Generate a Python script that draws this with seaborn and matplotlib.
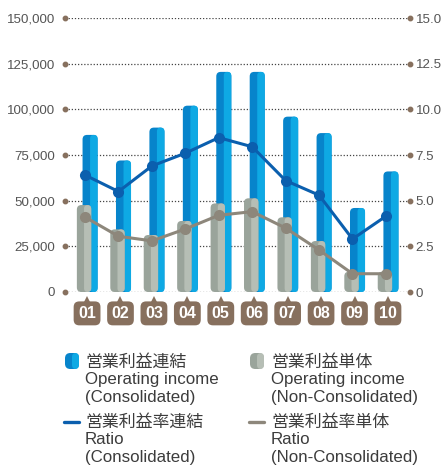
import numpy as np
import matplotlib
matplotlib.use("Agg")
import matplotlib.pyplot as plt
import matplotlib.transforms as mtransforms
from matplotlib.patches import FancyBboxPatch
from matplotlib.lines import Line2D
import seaborn as sns

# Datos
anios = ['01', '02', '03', '04', '05', '06', '07', '08', '09', '10']
renketsu = [86000, 72000, 90000, 102000, 120500, 120500, 96000, 87000, 46000, 66000]
tantai = [47600, 34300, 31200, 38900, 48500, 51300, 40900, 27900, 11100, 11100]
ratio_renketsu = [6.4, 5.5, 6.9, 7.6, 8.45, 7.95, 6.1, 5.3, 2.9, 4.15]
ratio_tantai = [4.1, 3.05, 2.8, 3.45, 4.2, 4.4, 3.5, 2.3, 1.0, 1.0]

ticks_izq = [0, 25000, 50000, 75000, 100000, 125000, 150000]
etiquetas_izq = ['0', '25,000', '50,000', '75,000', '100,000', '125,000', '150,000']
ticks_der = [0, 2.5, 5.0, 7.5, 10.0, 12.5, 15.0]
etiquetas_der = ['0', '2.5', '5.0', '7.5', '10.0', '12.5', '15.0']

# Colores
azul_osc, azul_cla = '#0784cb', '#0ea9e4'
gris_osc, gris_cla = '#9aa49b', '#b6beb5'
linea_azul = '#0b5fae'
linea_gris = '#8d877b'
marron = '#87705e'
texto = '#3c3c3c'

sns.set_style("white")
plt.rcParams['font.family'] = ['Liberation Sans', 'Noto Sans CJK JP', 'DejaVu Sans']

fig = plt.figure(figsize=(4.41, 4.65), dpi=100)
W, H = 441, 465
ax = fig.add_axes([65 / W, 1 - 292 / H, (410 - 65) / W, (292 - 18) / H])

pos = np.arange(len(anios))
xmin, xmax = -0.66, len(anios) - 1 + 0.66
ymax = 150000

# px -> unidades para redondear las barras
px_x = (xmax - xmin) / (410 - 65)
px_y = ymax / (292 - 18)


def cilindro(barras, osc, cla, z):
    for b in barras:
        x, w, h = b.get_x(), b.get_width(), b.get_height()
        b.set_visible(False)
        r = 4.5 * px_x
        asp = px_y / px_x
        ax.add_patch(FancyBboxPatch((x, 0), w, h, boxstyle=f"round,pad=0,rounding_size={r}",
                                    mutation_aspect=asp, fc=osc, ec='none', zorder=z))
        ax.add_patch(FancyBboxPatch((x + w * 0.5, 0), w * 0.5, h, boxstyle=f"round,pad=0,rounding_size={r * 0.8}",
                                    mutation_aspect=asp, fc=cla, ec='none', zorder=z + 0.1))


# Barras (consolidado detrás, individual delante)
n0 = len(ax.patches)
sns.barplot(x=pos + 0.09, y=renketsu, native_scale=True, width=0.45, color=azul_cla, ax=ax)
cilindro(ax.patches[n0:], azul_osc, azul_cla, 2)
n1 = len(ax.patches)
sns.barplot(x=pos - 0.09, y=tantai, native_scale=True, width=0.43, color=gris_cla, ax=ax)
cilindro([p for p in ax.patches[n1:] if isinstance(p, matplotlib.patches.Rectangle)], gris_osc, gris_cla, 3)

ax.set_xlim(xmin, xmax)
ax.set_ylim(0, ymax)
ax.set_yticks(ticks_izq, etiquetas_izq)
ax.set_xticks([])
ax.set_xlabel('')
ax.grid(axis='y', linestyle=(0, (1, 1.5)), color='#444444', linewidth=0.9)
ax.set_axisbelow(True)
for s in ax.spines.values():
    s.set_visible(False)
ax.tick_params(axis='y', length=0, pad=7, labelsize=9.6, labelcolor='#555555')

# Eje derecho: ratios
ax2 = ax.twinx()
sns.lineplot(x=pos - 0.06, y=ratio_renketsu, ax=ax2, color=linea_azul, linewidth=2.2,
             marker='o', markersize=8, markeredgewidth=0)
sns.lineplot(x=pos - 0.06, y=ratio_tantai, ax=ax2, color=linea_gris, linewidth=2.2,
             marker='o', markersize=8, markeredgewidth=0)
ax2.set_ylim(0, 15)
ax2.set_yticks(ticks_der, etiquetas_der)
ax2.grid(False)
for s in ax2.spines.values():
    s.set_visible(False)
ax2.tick_params(axis='y', length=0, pad=4, labelsize=9.6, labelcolor='#555555')
ax2.set_xlim(xmin, xmax)

# Puntos marrones en los extremos de la cuadrícula
trans = mtransforms.blended_transform_factory(ax.transAxes, ax.transData)
for xa in (0, 1):
    ax.plot([xa] * len(ticks_izq), ticks_izq, 'o', color=marron, markersize=3.2,
            transform=trans, clip_on=False, zorder=5)

# Etiquetas de año en cajas marrones
trans_x = mtransforms.blended_transform_factory(ax.transData, ax.transAxes)
for i, a in enumerate(anios):
    ax.text(i, -0.078, a, transform=trans_x, ha='center', va='center', color='white',
            fontsize=11.5, fontweight='bold', family=['Liberation Sans', 'DejaVu Sans'],
            bbox=dict(boxstyle='round,pad=0.28,rounding_size=0.35', fc=marron, ec='none'))
    ax.plot([i], [-0.024], marker='^', color=marron, markersize=4.5, transform=trans_x,
            clip_on=False, markeredgewidth=0)

# Leyenda manual
def fy(p):
    return 1 - p / H


def icono_barra(x0, osc, cla):
    fig.add_artist(FancyBboxPatch((x0 / W, fy(369)), 14 / W, 16 / H,
                                  boxstyle="round,pad=0,rounding_size=0.012", mutation_aspect=W / H,
                                  fc=osc, ec='none', transform=fig.transFigure))
    fig.add_artist(FancyBboxPatch(((x0 + 7) / W, fy(369)), 7 / W, 16 / H,
                                  boxstyle="round,pad=0,rounding_size=0.009", mutation_aspect=W / H,
                                  fc=cla, ec='none', transform=fig.transFigure))


def icono_linea(x0, color):
    fig.add_artist(Line2D([x0 / W, (x0 + 15) / W], [fy(422), fy(422)], color=color,
                          linewidth=2.4, transform=fig.transFigure))


icono_barra(65, azul_osc, azul_cla)
icono_barra(250, gris_osc, gris_cla)
icono_linea(64, linea_azul)
icono_linea(249, linea_gris)

leyenda = [
    (85, ['営業利益連結', 'Operating income', '(Consolidated)'], 362),
    (271, ['営業利益単体', 'Operating income', '(Non-Consolidated)'], 362),
    (85, ['営業利益率連結', 'Ratio', '(Consolidated)'], 422),
    (271, ['営業利益率単体', 'Ratio', '(Non-Consolidated)'], 422),
]
for x0, lineas, y0 in leyenda:
    for k, t in enumerate(lineas):
        fig.text(x0 / W, fy(y0 + k * 17.5), t, ha='left', va='center', fontsize=12.2, color=texto)

plt.savefig('out.png', dpi=100)
